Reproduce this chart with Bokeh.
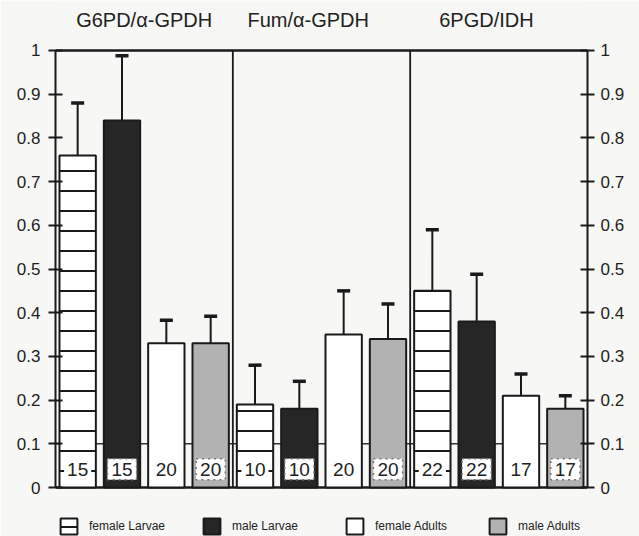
from bokeh.plotting import figure
from bokeh.models import (Range1d, LinearAxis, FixedTicker, Whisker, TeeHead,
                          ColumnDataSource, Legend, LegendItem)
from bokeh.core.properties import value
from bokeh.embed import file_html
from bokeh.resources import INLINE

# ---------------- data ----------------
groups = ["G6PD/α-GPDH", "Fum/α-GPDH", "6PGD/IDH"]
series = ["female Larvae", "male Larvae", "female Adults", "male Adults"]

female_larvae = [0.76, 0.19, 0.45]
female_larvae_err = [0.12, 0.09, 0.14]
female_larvae_n = [15, 10, 22]

male_larvae = [0.84, 0.18, 0.38]
male_larvae_err = [0.148, 0.063, 0.108]
male_larvae_n = [15, 10, 22]

female_adults = [0.33, 0.35, 0.21]
female_adults_err = [0.053, 0.10, 0.05]
female_adults_n = [20, 20, 17]

male_adults = [0.33, 0.34, 0.18]
male_adults_err = [0.062, 0.08, 0.03]
male_adults_n = [20, 20, 17]

tick_values = [0, 0.1, 0.2, 0.3, 0.4, 0.5, 0.6, 0.7, 0.8, 0.9, 1]
tick_labels = ["0", "0.1", "0.2", "0.3", "0.4", "0.5", "0.6", "0.7", "0.8", "0.9", "1"]

# ---------------- style ----------------
FONT = "Liberation Sans"
BG = "#f7f7f5"
INK = "#1a1a1a"

means = [female_larvae, male_larvae, female_adults, male_adults]
errs = [female_larvae_err, male_larvae_err, female_adults_err, male_adults_err]
ns = [female_larvae_n, male_larvae_n, female_adults_n, male_adults_n]
fills = ["white", "#262626", "white", "#b2b2b2"]
hatches = ["horizontal_line", None, None, None]
label_borders = [None, "#777777", None, "#777777"]

n_groups = len(groups)
n_series = len(series)

p = figure(width=639, height=536,
           x_range=Range1d(0, n_groups * n_series),
           y_range=Range1d(-0.1121, 1.1144),
           x_axis_type=None, y_axis_type=None,
           output_backend="svg", toolbar_location=None,
           min_border_left=55, min_border_right=52,
           min_border_top=0, min_border_bottom=0,
           background_fill_color=BG, border_fill_color=BG,
           outline_line_color=None)

for side, standoff in (("left", 8), ("right", 6)):
    ax = LinearAxis(bounds=(0, 1),
                    ticker=FixedTicker(ticks=tick_values),
                    major_label_overrides=dict(zip(tick_values, tick_labels)),
                    axis_line_width=2, axis_line_color=INK,
                    major_tick_line_width=2, major_tick_line_color=INK,
                    major_tick_in=7, major_tick_out=7,
                    minor_tick_line_color=None,
                    major_label_text_font=FONT,
                    major_label_text_font_size="17px",
                    major_label_text_color="#222222",
                    major_label_standoff=standoff)
    p.add_layout(ax, side)

total = n_groups * n_series
# background reference line at 0.1, frame lines at 0 and 1
p.segment(x0=[0], y0=[tick_values[1]], x1=[total], y1=[tick_values[1]],
          line_color="#333333", line_width=1.5)
p.segment(x0=[0, 0], y0=[0, 1], x1=[total, total], y1=[0, 1],
          line_color=INK, line_width=2.5)
seps = [g * n_series for g in range(1, n_groups)]
p.segment(x0=seps, y0=[0] * len(seps), x1=seps, y1=[1] * len(seps),
          line_color=INK, line_width=1.8)

renderers = []
sources = []
for s in range(n_series):
    xs = [g * n_series + s + 0.5 for g in range(n_groups)]
    src = ColumnDataSource(dict(
        x=xs, top=means[s],
        lower=[m - e for m, e in zip(means[s], errs[s])],
        upper=[m + e for m, e in zip(means[s], errs[s])],
        n=[str(v) for v in ns[s]],
    ))
    sources.append(src)
    kw = {}
    if hatches[s]:
        kw = dict(hatch_pattern=hatches[s], hatch_scale=20,
                  hatch_weight=2, hatch_color=INK)
    r = p.vbar(x="x", top="top", bottom=0, width=0.82, source=src,
               fill_color=fills[s], line_color=INK, line_width=2, **kw)
    renderers.append(r)

for s in range(n_series):
    w = Whisker(source=sources[s], base="x", lower="lower", upper="upper",
                line_color=INK, line_width=2,
                upper_head=TeeHead(size=13, line_width=3.5, line_color=INK),
                lower_head=TeeHead(size=13, line_width=3.5, line_color=INK))
    p.add_layout(w)

for s in range(n_series):
    kw = dict(background_fill_color="white", padding=3)
    if label_borders[s]:
        kw.update(border_line_color=label_borders[s], border_line_width=1.5,
                  border_line_dash="dotted", padding=4)
    p.text(x="x", y=0.042, text="n", source=sources[s],
           text_align="center", text_baseline="middle",
           text_font=value(FONT), text_font_size="19px",
           text_color="#222222", **kw)

# group titles
title_x = [2.0, 5.7, 9.72]
p.text(x=title_x, y=[1.069] * n_groups, text=groups,
       text_align="center", text_baseline="middle",
       text_font=value(FONT), text_font_size="20px", text_color="#222222")

legend = Legend(items=[LegendItem(label=series[s], renderers=[renderers[s]])
                       for s in range(n_series)],
                orientation="horizontal", location=(3, 0),
                glyph_width=21, glyph_height=20, label_standoff=10,
                label_width=112, spacing=0, padding=0, margin=0,
                border_line_color=None, background_fill_alpha=0,
                label_text_font=FONT, label_text_font_size="12px",
                label_text_color="#222222")
p.add_layout(legend, "center")

open("out.html", "w").write(file_html(p, INLINE))
